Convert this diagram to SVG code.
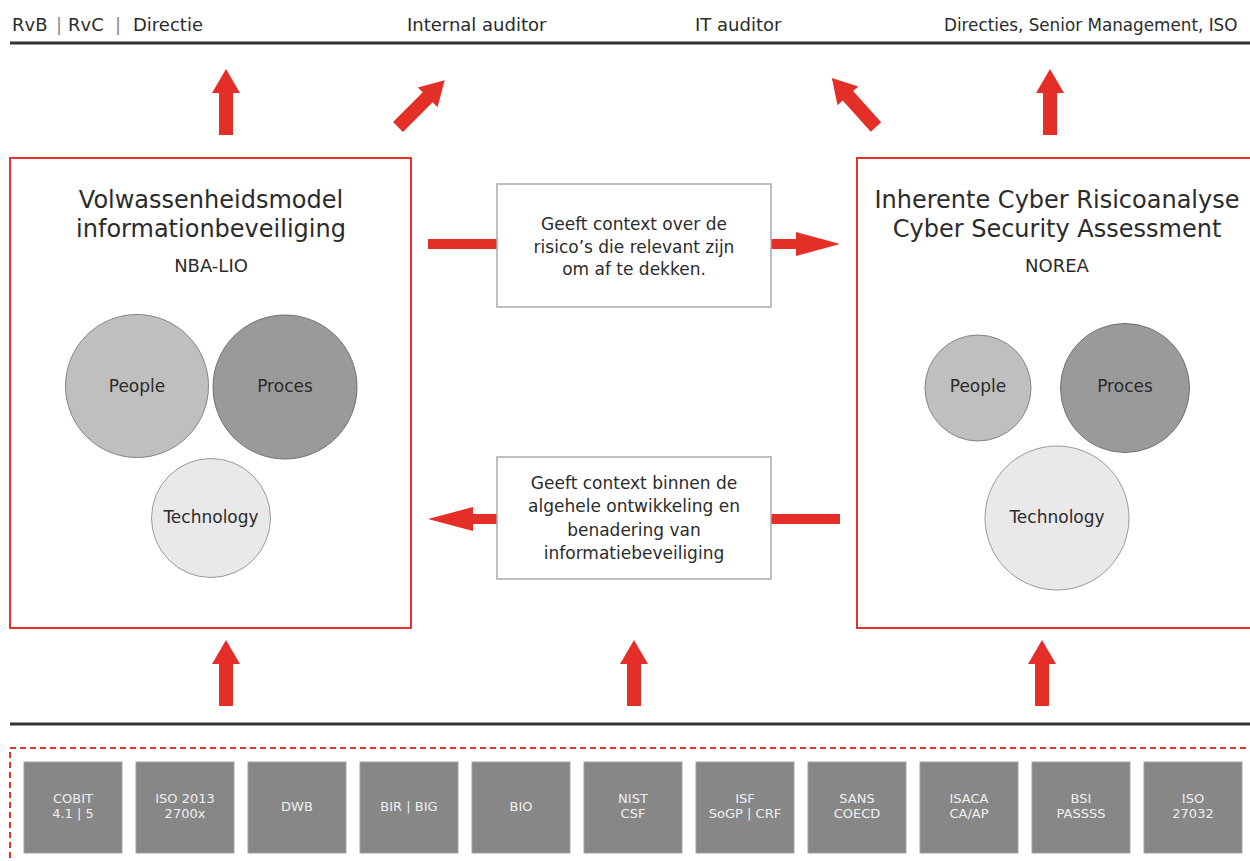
<svg xmlns="http://www.w3.org/2000/svg" width="1250" height="861" viewBox="0 0 1250 861">
<defs>
<style>
text{font-family:"DejaVu Sans","Liberation Sans",sans-serif;fill:#2b2b2b}
.hdr{font-size:18px}
.bar{fill:#888}
.title{font-size:24px;text-anchor:middle}
.sub{font-size:18px;text-anchor:middle}
.mid{font-size:17px;text-anchor:middle}
.cl{font-size:17px;text-anchor:middle}
.redbox{fill:#fff;stroke:#e3342c;stroke-width:2}
.midbox{fill:#fff;stroke:#aaa;stroke-width:1.5}
.arr{fill:#e32f27}
.rule{stroke:#333;stroke-width:3}
.c1{fill:#bfbfbf;stroke:#858585;stroke-width:1}
.c2{fill:#9a9a9a;stroke:#707070;stroke-width:1}
.c3{fill:#e9e9e9;stroke:#9a9a9a;stroke-width:1}
.std{fill:#878787;stroke:#a3a3a3;stroke-width:1}
.stdt{font-size:13px;fill:#f0f0f0;text-anchor:middle}
</style>
<polygon id="up" points="-7,0 -7,-42 -14,-42 0,-66 14,-42 7,-42 7,0"/>
</defs>
<rect width="1250" height="861" fill="#fff"/>

<g id="header">
<line class="rule" x1="10" y1="43" x2="1250" y2="43"/>
<text class="hdr" y="31"><tspan x="12">RvB</tspan><tspan x="56" class="bar">|</tspan><tspan x="68">RvC</tspan><tspan x="115" class="bar">|</tspan><tspan x="133">Directie</tspan></text>
<text class="hdr" x="407" y="31">Internal auditor</text>
<text class="hdr" x="695" y="31">IT auditor</text>
<text class="hdr" x="944" y="31" style="font-size:16.8px">Directies, Senior Management, ISO</text>
</g>

<g id="connectors">
<use href="#up" class="arr" transform="translate(226,135)"/>
<use href="#up" class="arr" transform="translate(398,127) rotate(45)"/>
<use href="#up" class="arr" transform="translate(876,127) rotate(-42)"/>
<use href="#up" class="arr" transform="translate(1050,135)"/>
<rect class="arr" x="428" y="239" width="69" height="10"/>
<polygon class="arr" points="771,239 796,239 796,232 840,244 796,256 796,249 771,249"/>
<polygon class="arr" points="840,514 771,514 771,524 840,524"/>
<polygon class="arr" points="497,514 473,514 473,507 428,519 473,531 473,524 497,524"/>
<use href="#up" class="arr" transform="translate(226,706)"/>
<use href="#up" class="arr" transform="translate(634,706)"/>
<use href="#up" class="arr" transform="translate(1042,706)"/>
</g>

<g id="left-model">
<rect class="redbox" x="10" y="158" width="401" height="470"/>
<text class="title" x="211" y="208">Volwassenheidsmodel</text>
<text class="title" x="211" y="237">informationbeveiliging</text>
<text class="sub" x="211" y="272">NBA-LIO</text>
<circle class="c1" cx="137" cy="386" r="71.5"/>
<text class="cl" x="137" y="392">People</text>
<circle class="c2" cx="285" cy="387" r="72"/>
<text class="cl" x="285" y="392">Proces</text>
<circle class="c3" cx="211" cy="518" r="59.5"/>
<text class="cl" x="211" y="523">Technology</text>
</g>

<g id="right-model">
<rect class="redbox" x="857" y="158" width="401" height="470"/>
<text class="title" x="1057" y="208">Inherente Cyber Risicoanalyse</text>
<text class="title" x="1057" y="237">Cyber Security Assessment</text>
<text class="sub" x="1057" y="272">NOREA</text>
<circle class="c1" cx="978" cy="388" r="53"/>
<text class="cl" x="978" y="392">People</text>
<circle class="c2" cx="1125" cy="388" r="64.5"/>
<text class="cl" x="1125" y="392">Proces</text>
<circle class="c3" cx="1057" cy="518" r="72"/>
<text class="cl" x="1057" y="523">Technology</text>
</g>

<g id="context-top">
<rect class="midbox" x="497" y="184" width="274" height="123"/>
<text class="mid" x="634" y="230">Geeft context over de</text>
<text class="mid" x="634" y="253">risico’s die relevant zijn</text>
<text class="mid" x="634" y="275">om af te dekken.</text>
</g>

<g id="context-bottom">
<rect class="midbox" x="497" y="457" width="274" height="122"/>
<text class="mid" x="634" y="489">Geeft context binnen de</text>
<text class="mid" x="634" y="512">algehele ontwikkeling en</text>
<text class="mid" x="634" y="536">benadering van</text>
<text class="mid" x="634" y="559">informatiebeveiliging</text>
</g>

<g id="standards">
<line class="rule" x1="10" y1="724" x2="1250" y2="724"/>
<rect x="10" y="748" width="1250" height="130" fill="none" stroke="#e3342c" stroke-width="2" stroke-dasharray="6,4"/>
<g id="s1"><rect class="std" x="24" y="762" width="98" height="91"/><text class="stdt" x="73" y="803">COBIT</text><text class="stdt" x="73" y="818">4.1 | 5</text></g>
<g id="s2"><rect class="std" x="136" y="762" width="98" height="91"/><text class="stdt" x="185" y="803">ISO 2013</text><text class="stdt" x="185" y="818">2700x</text></g>
<g id="s3"><rect class="std" x="248" y="762" width="98" height="91"/><text class="stdt" x="297" y="811">DWB</text></g>
<g id="s4"><rect class="std" x="360" y="762" width="98" height="91"/><text class="stdt" x="409" y="811">BIR | BIG</text></g>
<g id="s5"><rect class="std" x="472" y="762" width="98" height="91"/><text class="stdt" x="521" y="811">BIO</text></g>
<g id="s6"><rect class="std" x="584" y="762" width="98" height="91"/><text class="stdt" x="633" y="803">NIST</text><text class="stdt" x="633" y="818">CSF</text></g>
<g id="s7"><rect class="std" x="696" y="762" width="98" height="91"/><text class="stdt" x="745" y="803">ISF</text><text class="stdt" x="745" y="818">SoGP | CRF</text></g>
<g id="s8"><rect class="std" x="808" y="762" width="98" height="91"/><text class="stdt" x="857" y="803">SANS</text><text class="stdt" x="857" y="818">COECD</text></g>
<g id="s9"><rect class="std" x="920" y="762" width="98" height="91"/><text class="stdt" x="969" y="803">ISACA</text><text class="stdt" x="969" y="818">CA/AP</text></g>
<g id="s10"><rect class="std" x="1032" y="762" width="98" height="91"/><text class="stdt" x="1081" y="803">BSI</text><text class="stdt" x="1081" y="818">PASSSS</text></g>
<g id="s11"><rect class="std" x="1144" y="762" width="98" height="91"/><text class="stdt" x="1193" y="803">ISO</text><text class="stdt" x="1193" y="818">27032</text></g>
</g>
</svg>
